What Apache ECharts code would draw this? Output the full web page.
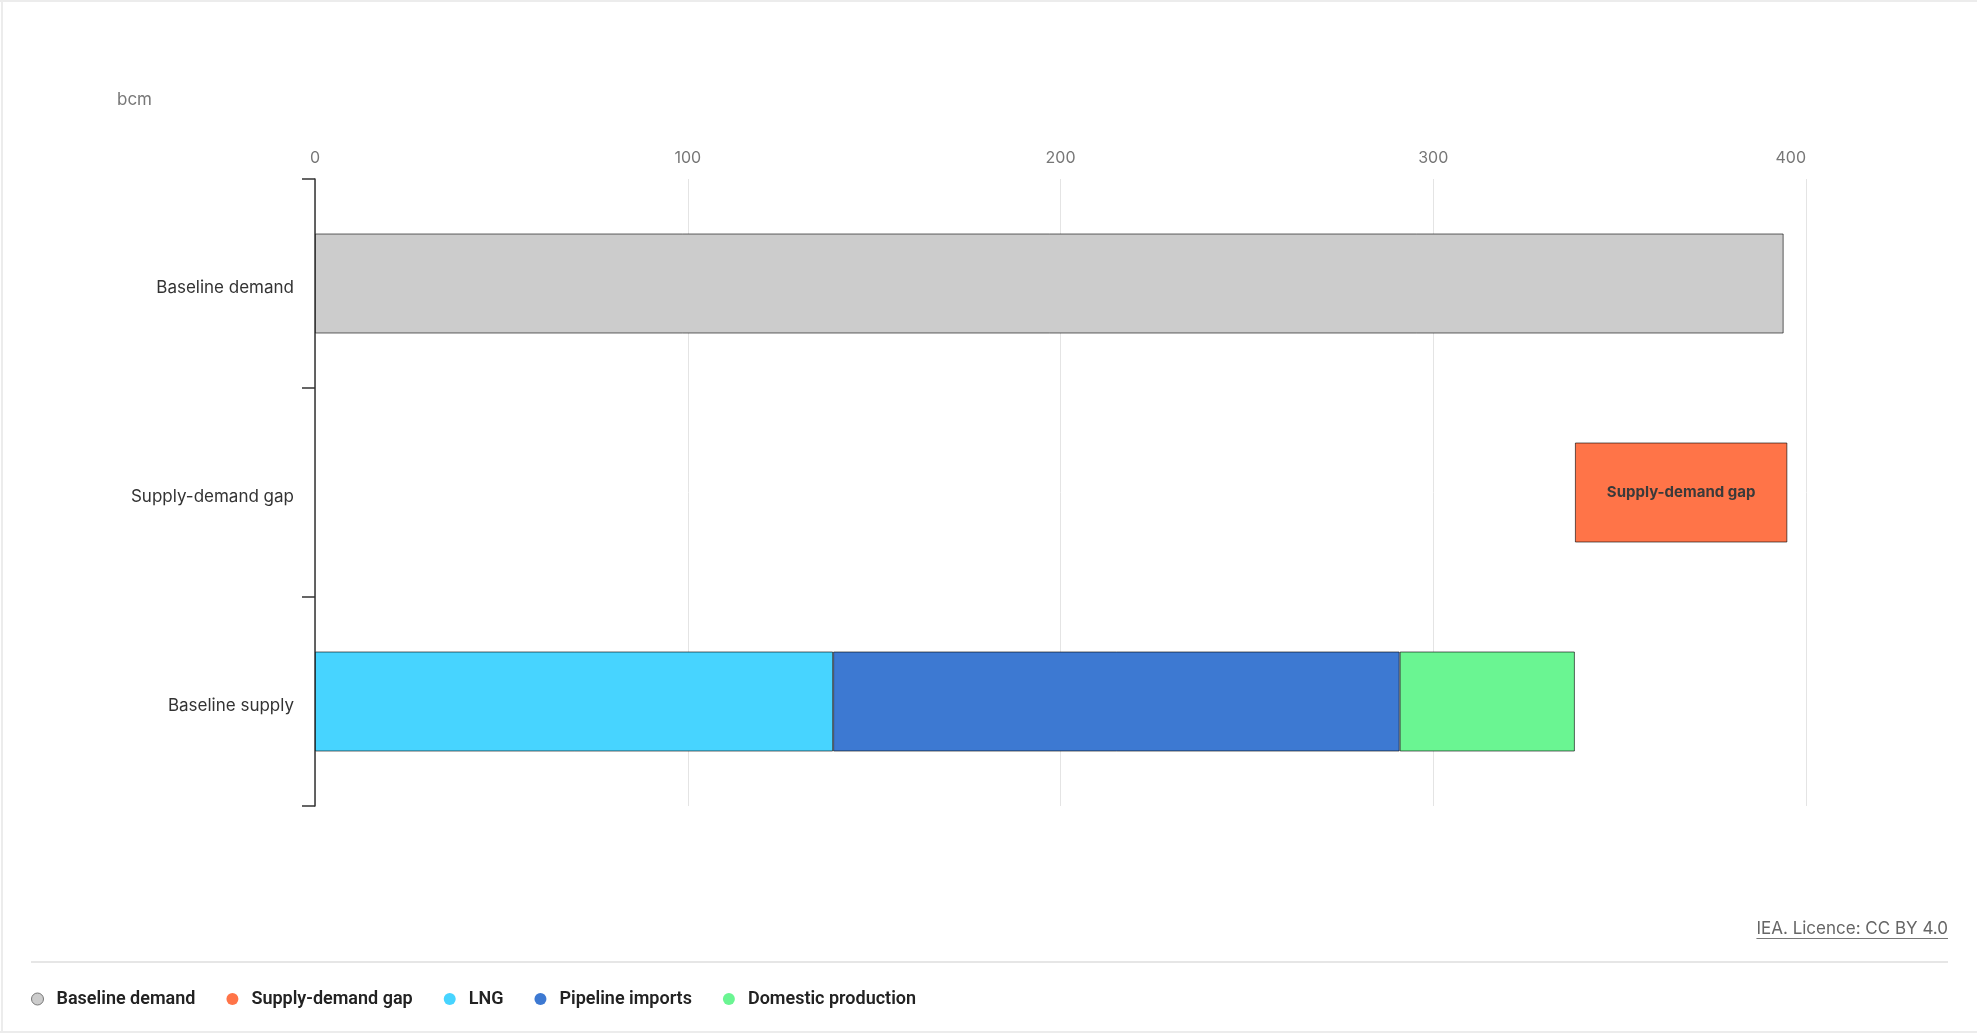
<!DOCTYPE html>
<html>
<head>
<meta charset="utf-8">
<script src="https://cdn.jsdelivr.net/npm/echarts@6/dist/echarts.min.js"></script>
<style>
  html, body { margin: 0; padding: 0; background: #fff; }
  #chart { width: 1977px; height: 1033px; }
</style>
</head>
<body>
<div id="chart"></div>
<script>
// Gas balance, bcm
const categories = ['Baseline demand', 'Supply-demand gap', 'Baseline supply'];
const baselineDemand = [394, null, null];
const supplyDemandGap = [null, 57, null];
const lng = [null, null, 139];
const pipelineImports = [null, null, 152];
const domesticProduction = [null, null, 47];
const xTicks = { min: 0, max: 400, interval: 100 };
const unitLabel = 'bcm';
const sourceText = 'IEA. Licence: CC BY 4.0';

const colors = {
  demand: '#cccccc',
  gap: '#ff7448',
  lng: '#47d4ff',
  pipeline: '#3d79d2',
  domestic: '#6af592'
};

// The gap bar floats on top of total baseline supply
const supplyTotal = lng[2] + pipelineImports[2] + domesticProduction[2];
const gapBase = [null, supplyTotal, null];

const FONT = 'Inter, "Noto Sans", sans-serif';
const SOURCE_SIZE = 17;

// width of the source line, for its underline
function textWidth(text, font) {
  const ctx = document.createElement('canvas').getContext('2d');
  ctx.font = font;
  return ctx.measureText(text).width;
}
const sourceW = textWidth(sourceText, SOURCE_SIZE + 'px ' + FONT);
const sourceRight = 1948;

const chart = echarts.init(document.getElementById('chart'), null, { renderer: 'canvas' });

const barBorder = { borderColor: 'rgba(0,0,0,0.6)', borderWidth: 1 };
const BAR_W = 100;

const option = {
  animation: false,
  textStyle: { fontFamily: FONT },
  grid: { left: 315, right: 171, top: 179, bottom: 227, containLabel: false },
  xAxis: {
    type: 'value',
    position: 'top',
    min: xTicks.min, max: xTicks.max, interval: xTicks.interval,
    axisLine: { show: false },
    axisTick: { show: false },
    axisLabel: { color: '#777', fontSize: 16, margin: 13, alignMaxLabel: 'right', fontFamily: FONT },
    splitLine: { lineStyle: { color: '#e4e4e4', width: 1 } }
  },
  yAxis: {
    type: 'category',
    inverse: true,
    data: categories,
    axisLine: { show: true, lineStyle: { color: '#333', width: 1.5 } },
    axisTick: { show: true, length: 13, lineStyle: { color: '#333', width: 1.5 } },
    axisLabel: {
      margin: 21,
      formatter: '{c|{value}}',
      rich: { c: { color: '#333', fontSize: 17, fontFamily: FONT, padding: [8, 0, 0, 0] } }
    }
  },
  legend: {
    left: 26,
    top: 985,
    icon: 'circle',
    itemWidth: 12,
    itemHeight: 12,
    itemGap: 31,
    textStyle: { color: '#222', fontSize: 18, fontWeight: 600, fontFamily: 'Roboto, sans-serif', padding: [0, 0, 0, 8] },
    data: [
      { name: 'Baseline demand', itemStyle: { borderColor: '#777', borderWidth: 1 } },
      { name: 'Supply-demand gap', itemStyle: { borderWidth: 0 } },
      { name: 'LNG', itemStyle: { borderWidth: 0 } },
      { name: 'Pipeline imports', itemStyle: { borderWidth: 0 } },
      { name: 'Domestic production', itemStyle: { borderWidth: 0 } }
    ]
  },
  series: [
    {
      name: 'Baseline demand', type: 'bar', stack: 'total', barWidth: BAR_W,
      data: baselineDemand,
      itemStyle: Object.assign({ color: colors.demand }, barBorder)
    },
    {
      name: 'gapBase', type: 'bar', stack: 'total', barWidth: BAR_W,
      data: gapBase, silent: true,
      itemStyle: { color: 'transparent', borderWidth: 0 }
    },
    {
      name: 'Supply-demand gap', type: 'bar', stack: 'total', barWidth: BAR_W,
      data: supplyDemandGap,
      itemStyle: Object.assign({ color: colors.gap }, barBorder),
      label: {
        show: true, position: 'inside', formatter: '{b}',
        color: '#3a3a3a', fontSize: 15, fontWeight: 700, fontFamily: FONT
      }
    },
    {
      name: 'LNG', type: 'bar', stack: 'total', barWidth: BAR_W,
      data: lng,
      itemStyle: Object.assign({ color: colors.lng }, barBorder)
    },
    {
      name: 'Pipeline imports', type: 'bar', stack: 'total', barWidth: BAR_W,
      data: pipelineImports,
      itemStyle: Object.assign({ color: colors.pipeline }, barBorder)
    },
    {
      name: 'Domestic production', type: 'bar', stack: 'total', barWidth: BAR_W,
      data: domesticProduction,
      itemStyle: Object.assign({ color: colors.domestic }, barBorder)
    }
  ],
  graphic: [
    // page frame
    { type: 'line', shape: { x1: 0, y1: 1, x2: 1977, y2: 1 }, style: { stroke: '#ececec', lineWidth: 2 }, silent: true },
    { type: 'line', shape: { x1: 2, y1: 0, x2: 2, y2: 1033 }, style: { stroke: '#ececec', lineWidth: 2 }, silent: true },
    { type: 'line', shape: { x1: 0, y1: 1032, x2: 1977, y2: 1032 }, style: { stroke: '#ececec', lineWidth: 2 }, silent: true },
    // unit
    {
      type: 'text', left: 117, top: 91,
      style: { text: unitLabel, fill: '#777', fontSize: 17, fontFamily: FONT }
    },
    // source, underlined
    {
      type: 'text', right: 1977 - sourceRight, top: 920,
      style: { text: sourceText, fill: '#666', fontSize: SOURCE_SIZE, fontFamily: FONT }
    },
    { type: 'line', shape: { x1: sourceRight - sourceW, y1: 938.5, x2: sourceRight, y2: 938.5 }, style: { stroke: '#777', lineWidth: 1 }, silent: true },
    // separator above legend
    { type: 'line', shape: { x1: 31, y1: 962, x2: 1948, y2: 962 }, style: { stroke: '#e6e6e6', lineWidth: 2 }, silent: true }
  ]
};

chart.setOption(option);
</script>
</body>
</html>
